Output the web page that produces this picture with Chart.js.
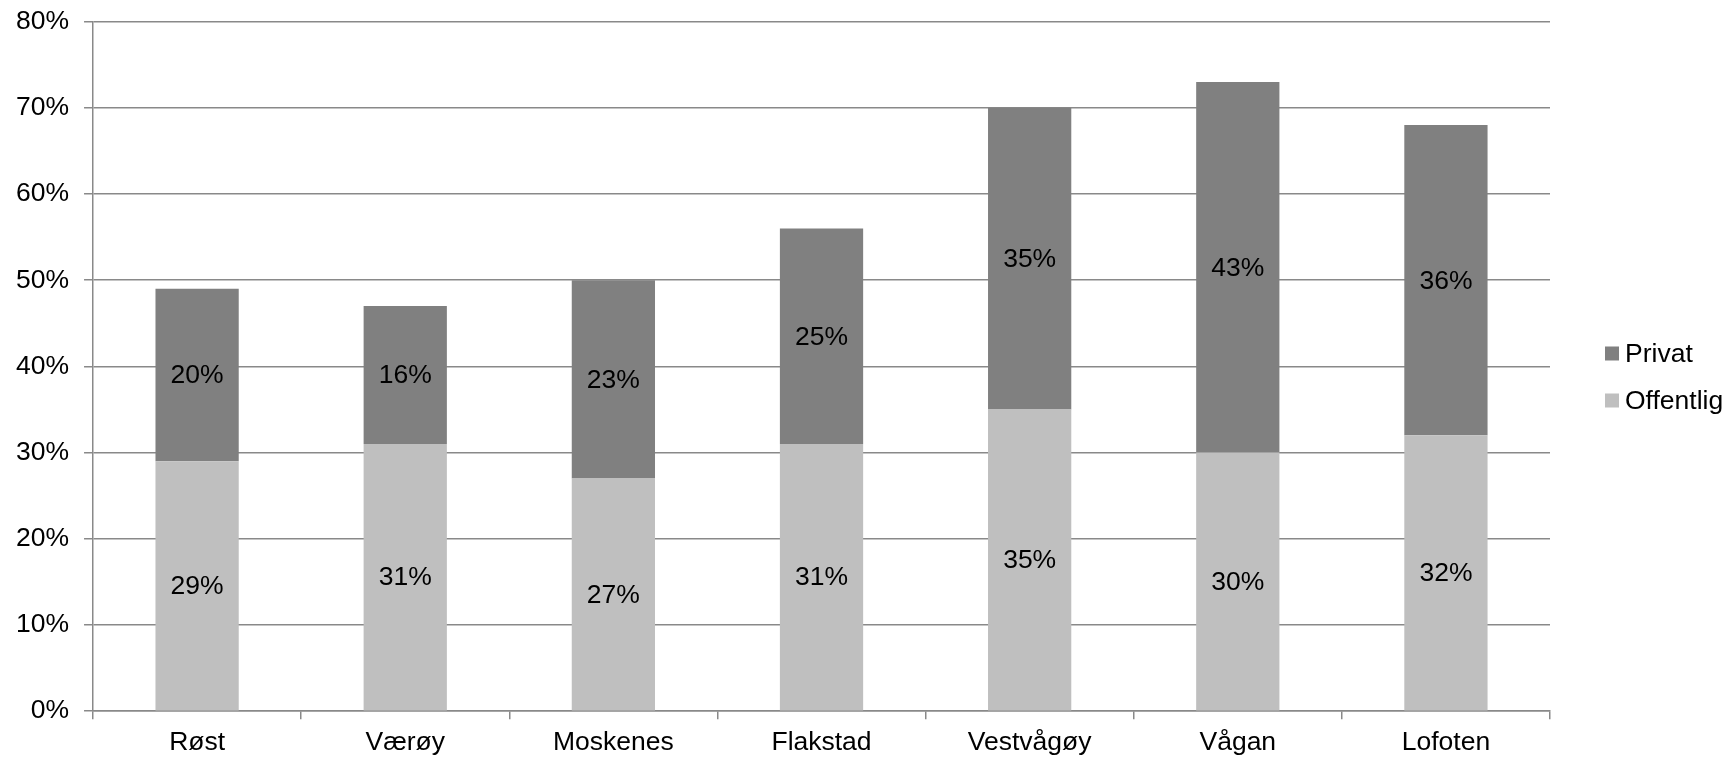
<!DOCTYPE html>
<html>
<head>
<meta charset="utf-8">
<script src="https://cdn.jsdelivr.net/npm/chart.js@4/dist/chart.umd.min.js"></script>
<style>
    html, body { margin: 0; padding: 0; background: #fff; }
    #wrap { width: 1735px; height: 758px; }
</style>
</head>
<body>
<div id="wrap"><canvas id="shareChart"></canvas></div>
<script>
// Kommuner i Lofoten
const kommuner = ['Røst', 'Værøy', 'Moskenes', 'Flakstad', 'Vestvågøy', 'Vågan', 'Lofoten'];
const offentlig = [29, 31, 27, 31, 35, 30, 32];
const privat = [20, 16, 23, 25, 35, 43, 36];
const yTicks = [0, 10, 20, 30, 40, 50, 60, 70, 80];

const FONT = 'Liberation Sans, Arial, sans-serif';
const FONT_SIZE = 26.5;
const GRID = '#898989';

// Writes the value in the middle of each stacked segment
const segmentLabels = {
    id: 'segmentLabels',
    afterDatasetsDraw(chart) {
        const ctx = chart.ctx;
        ctx.save();
        ctx.font = FONT_SIZE + 'px ' + FONT;
        ctx.fillStyle = '#000';
        ctx.textAlign = 'center';
        ctx.textBaseline = 'middle';
        chart.data.datasets.forEach((ds, i) => {
            chart.getDatasetMeta(i).data.forEach((bar, j) => {
                const p = bar.getProps(['x', 'y', 'base'], true);
                ctx.fillText(ds.data[j] + '%', p.x, (p.y + p.base) / 2 + 1);
            });
        });
        ctx.restore();
    }
};

// Legend on the right, Privat above Offentlig
const sideLegend = {
    id: 'sideLegend',
    afterDraw(chart) {
        const ctx = chart.ctx;
        const items = chart.data.datasets.slice().reverse();
        const x = chart.chartArea.right + 55;
        const gap = 47;
        let y = chart.height / 2 - gap / 2 - 2;
        ctx.save();
        ctx.font = FONT_SIZE + 'px ' + FONT;
        ctx.textBaseline = 'middle';
        ctx.textAlign = 'left';
        items.forEach(ds => {
            ctx.fillStyle = ds.backgroundColor;
            ctx.fillRect(x, y - 7, 14, 14);
            ctx.fillStyle = '#000';
            ctx.fillText(ds.label, x + 20, y + 1);
            y += gap;
        });
        ctx.restore();
    }
};

function initChart() {
    const ctx = document.getElementById('shareChart').getContext('2d');

    const config = {
        type: 'bar',
        data: {
            labels: kommuner,
            datasets: [{
                label: 'Offentlig',
                data: offentlig,
                backgroundColor: '#bfbfbf',
                borderWidth: 0
            }, {
                label: 'Privat',
                data: privat,
                backgroundColor: '#808080',
                borderWidth: 0
            }]
        },
        options: {
            responsive: true,
            maintainAspectRatio: false,
            animation: false,
            layout: {
                padding: { left: 1, right: 185, top: 19, bottom: -9 }
            },
            plugins: {
                legend: { display: false },
                tooltip: { enabled: false }
            },
            datasets: {
                bar: { categoryPercentage: 1, barPercentage: 0.4 }
            },
            scales: {
                x: {
                    stacked: true,
                    offset: true,
                    grid: {
                        offset: true,
                        drawOnChartArea: false,
                        drawTicks: true,
                        tickLength: 8,
                        color: GRID,
                        lineWidth: 1.5
                    },
                    border: { color: GRID, width: 1.5 },
                    ticks: {
                        color: '#000',
                        padding: 14,
                        font: { family: FONT, size: FONT_SIZE, lineHeight: 0.75 }
                    }
                },
                y: {
                    stacked: true,
                    min: 0,
                    max: 80,
                    afterBuildTicks(axis) {
                        axis.ticks = yTicks.map(v => ({ value: v }));
                    },
                    grid: {
                        color: GRID,
                        lineWidth: 1.5,
                        drawTicks: true,
                        tickLength: 9
                    },
                    border: { color: GRID, width: 1.5 },
                    ticks: {
                        color: '#000',
                        padding: 15,
                        font: { family: FONT, size: FONT_SIZE, lineHeight: 0.5 },
                        callback: function(value) {
                            return value + '%';
                        }
                    }
                }
            }
        },
        plugins: [segmentLabels, sideLegend]
    };

    new Chart(ctx, config);
}

document.addEventListener('DOMContentLoaded', initChart);
</script>
</body>
</html>
